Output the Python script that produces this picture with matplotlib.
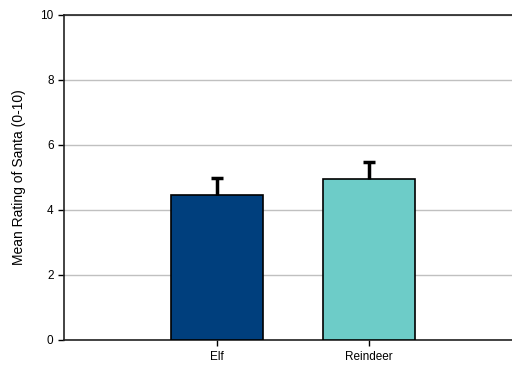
import matplotlib.pyplot as plt
import numpy as np

categories = ['Elf', 'Reindeer']
means = [4.45, 4.95]
errors = [0.52, 0.52]
colors = ['#003f7d', '#6dccc8']

plt.rcParams['font.family'] = ['Liberation Sans', 'DejaVu Sans']

fig = plt.figure(figsize=(5.12, 3.65), dpi=100)
ax = fig.add_axes([0.125, 0.0685, 0.875, 0.8905])

x = np.arange(len(categories))
ax.bar(x, means, width=0.6, color=colors, edgecolor='black', linewidth=1.2, zorder=3)
eb = ax.errorbar(x, means, yerr=[np.zeros(len(errors)), errors], fmt='none',
	ecolor='black', elinewidth=2.5, capsize=4.5, capthick=2.5, zorder=4)
# only the upper cap, like the original
eb[1][0].set_visible(False)

ax.set_xlim(-1.007, 1.94)
ax.set_ylim(0, 10)
ax.set_yticks(range(0, 11, 2))
ax.set_xticks(x)
ax.set_xticklabels(categories)
ax.tick_params(axis='both', labelsize=8.5, length=4, width=1, direction='out')
ax.tick_params(axis='x', pad=4)
ax.yaxis.grid(True, color='#c0c0c0', linewidth=1, zorder=0)
ax.set_axisbelow(True)
ax.set_ylabel('Mean Rating of Santa (0-10)', fontsize=10, labelpad=10)

ax.spines['right'].set_visible(False)
for s in ['left', 'top', 'bottom']:
	ax.spines[s].set_linewidth(1.2)
	ax.spines[s].set_color('#222222')

fig.savefig('out.png', dpi=100)
